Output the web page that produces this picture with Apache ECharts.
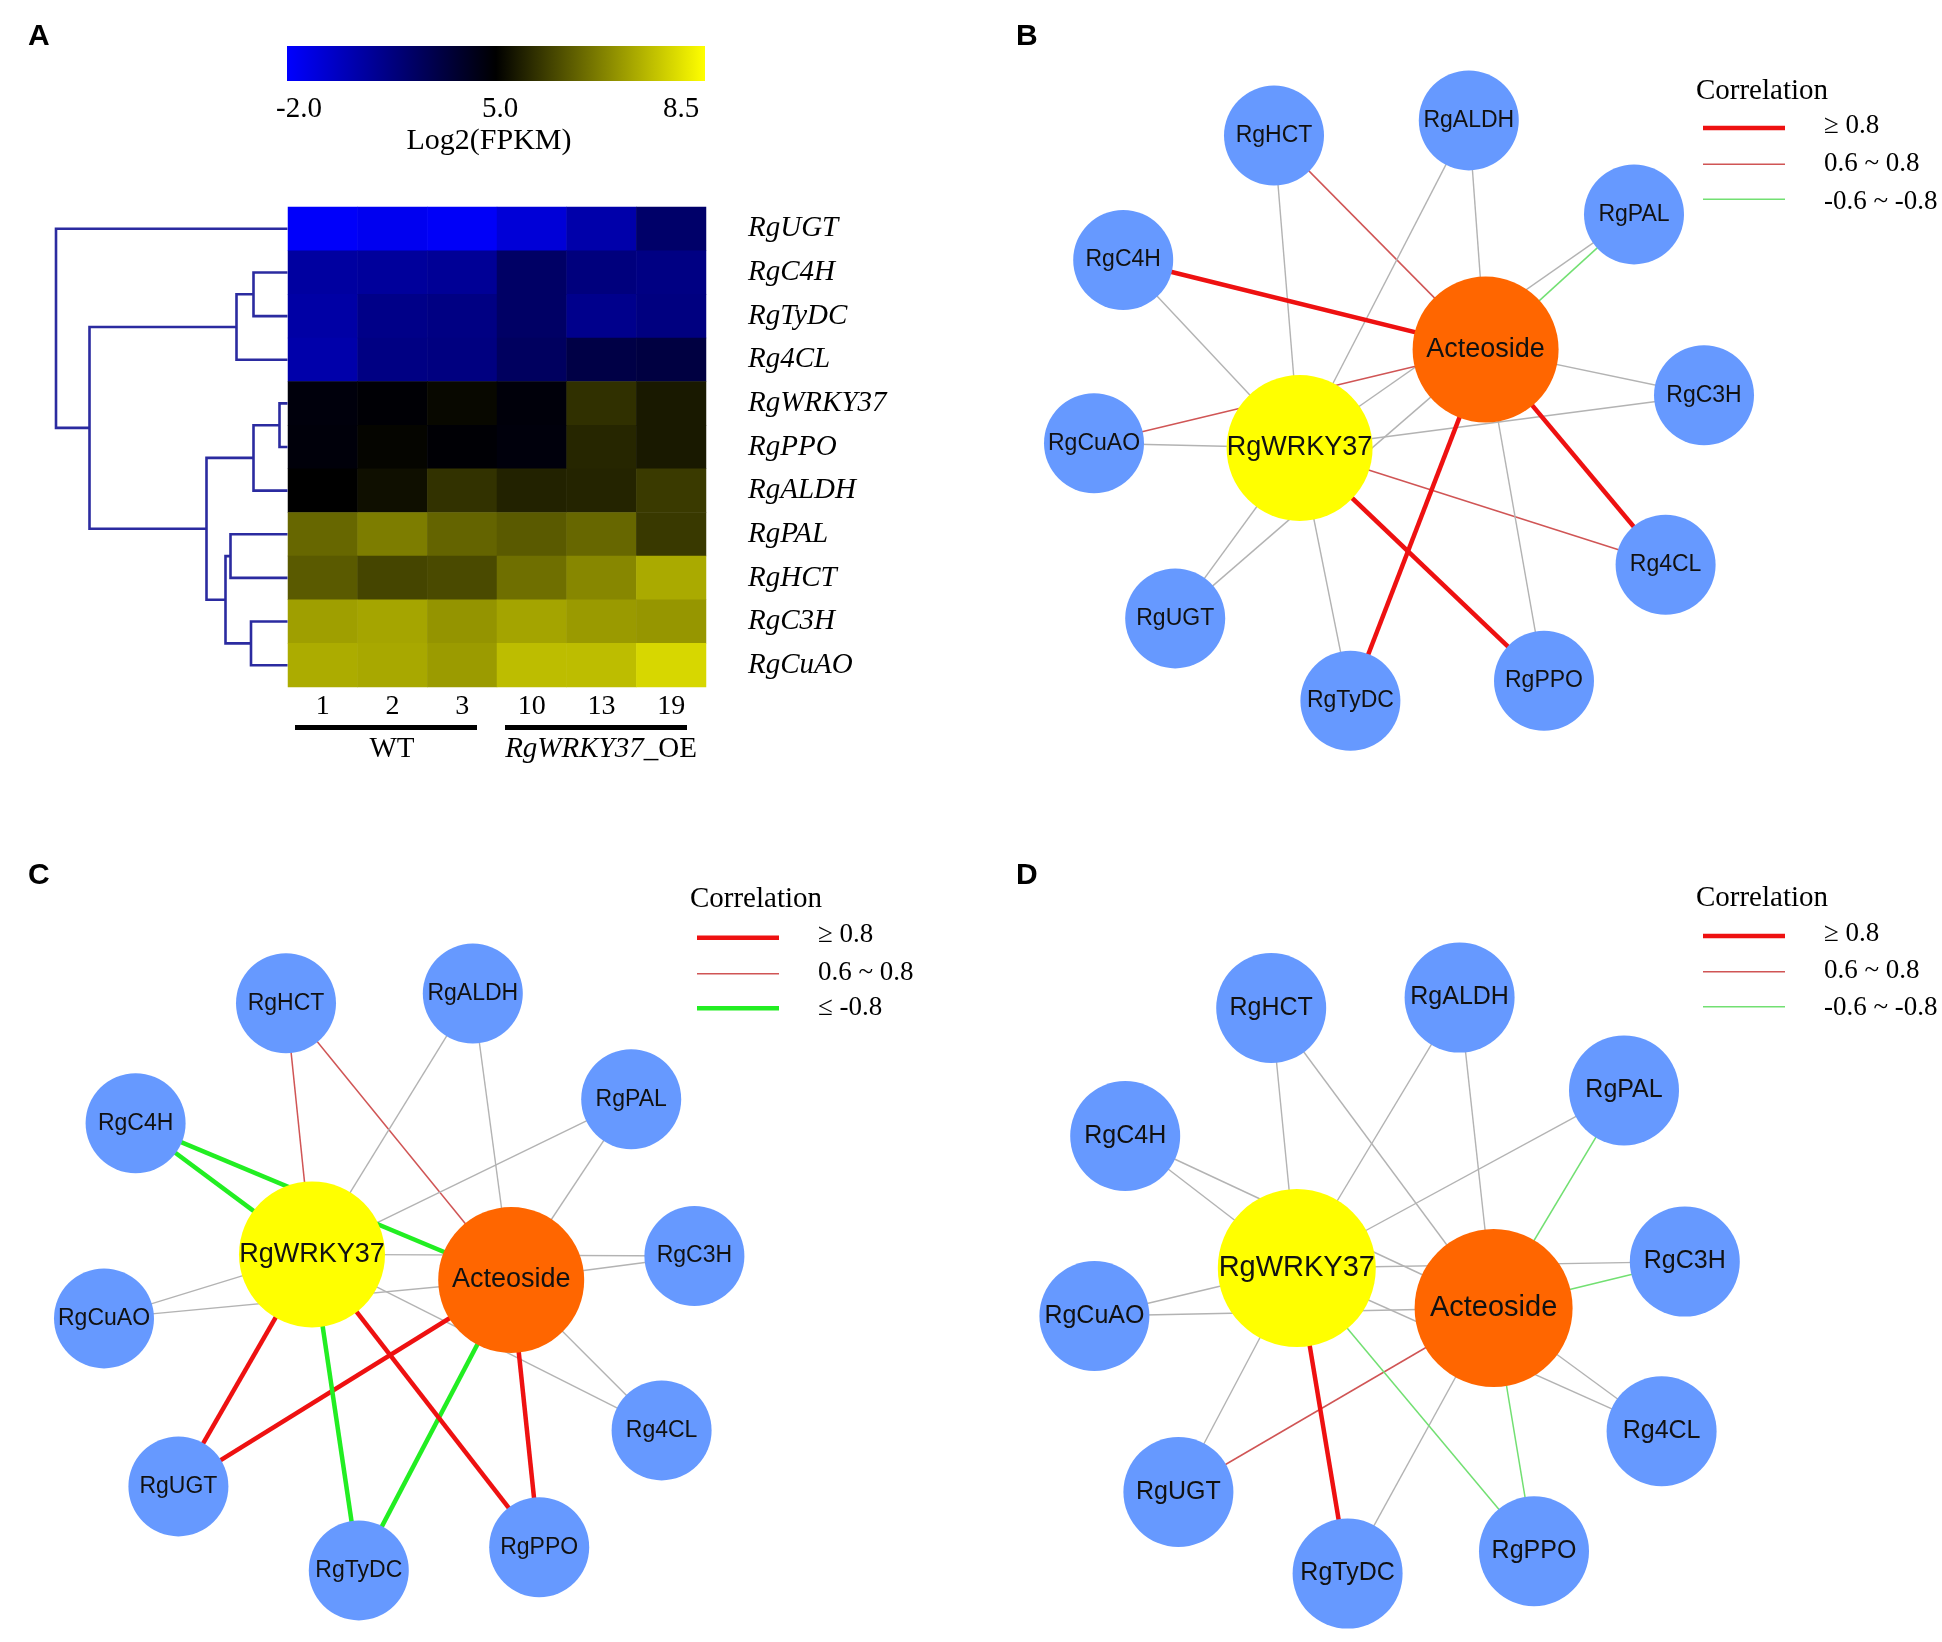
<!DOCTYPE html>
<html>
<head>
<meta charset="utf-8">
<script src="https://cdn.jsdelivr.net/npm/echarts@6/dist/echarts.min.js"></script>
<style>html,body{margin:0;padding:0;background:#fff}#c{width:1942px;height:1642px}</style>
</head>
<body>
<div id="c"></div>
<script>
// ---------------- DATA ----------------
const genes = ['RgUGT','RgC4H','RgTyDC','Rg4CL','RgWRKY37','RgPPO','RgALDH','RgPAL','RgHCT','RgC3H','RgCuAO'];
const samples = ['1','2','3','10','13','19'];
// log2(FPKM) per gene, samples 1,2,3 (WT) and 10,13,19 (OE)
const exprUGT    = [-1.86, -1.59, -1.81, -0.90, 0.33, 2.12];
const exprC4H    = [0.61, 0.75, 0.88, 2.25, 1.57, 1.43];
const exprTyDC   = [0.47, 1.29, 1.43, 2.25, 1.16, 1.49];
const expr4CL    = [0.33, 1.43, 1.49, 2.39, 3.08, 3.22];
const exprWRKY37 = [4.67, 4.86, 5.11, 4.73, 5.66, 5.34];
const exprPPO    = [4.73, 5.07, 4.86, 4.67, 5.52, 5.34];
const exprALDH   = [5.00, 5.20, 5.69, 5.46, 5.50, 5.80];
const exprPAL    = [6.42, 6.72, 6.37, 6.23, 6.42, 5.78];
const exprHCT    = [6.23, 5.95, 6.02, 6.52, 6.85, 7.33];
const exprC3H    = [7.18, 7.26, 7.03, 7.25, 7.12, 7.06];
const exprCuAO   = [7.36, 7.31, 7.13, 7.60, 7.60, 7.95];
const exprRows = [exprUGT, exprC4H, exprTyDC, expr4CL, exprWRKY37, exprPPO, exprALDH, exprPAL, exprHCT, exprC3H, exprCuAO];
const colorbarTicks = ['-2.0', '5.0', '8.5'];
const groupLabels = ['WT', 'RgWRKY37_OE'];
// dendrogram merges: [clusterA, clusterB, height]; leaves 0..10, new clusters 11..
const dendroMerges = [
  [1, 2, 0.68], [11, 3, 1.02], [4, 5, 0.16], [13, 6, 0.68], [7, 8, 1.14],
  [9, 10, 0.73], [15, 16, 1.24], [14, 17, 1.62], [12, 18, 3.96], [0, 19, 4.63]
];
const dendroMaxHeight = 4.63;
// network layouts (layout units 0-100)
const nodesB = [['RgHCT',34.25,16.95],['RgALDH',58.6,15.05],['RgPAL',79.25,26.8],['RgC4H',15.4,32.5],
  ['Acteoside',60.7,43.7],['RgC3H',88.0,49.4],['RgCuAO',11.75,55.4],['RgWRKY37',37.45,56.0],
  ['Rg4CL',83.2,70.6],['RgUGT',21.9,77.3],['RgTyDC',43.8,87.6],['RgPPO',68.0,85.1]];
const nodesC = [['RgHCT',35.75,22.9],['RgALDH',59.1,21.7],['RgPAL',78.9,34.9],['RgC4H',16.95,37.9],
  ['RgWRKY37',39.0,54.3],['Acteoside',63.9,57.5],['RgC3H',86.8,54.5],['RgCuAO',13.0,62.3],
  ['Rg4CL',82.7,76.3],['RgUGT',22.3,83.3],['RgTyDC',44.85,93.8],['RgPPO',67.4,90.9]];
const nodesD = [['RgHCT',33.9,23.5],['RgALDH',57.45,22.2],['RgPAL',78.0,33.8],['RgC4H',15.65,39.5],
  ['RgWRKY37',37.1,56.0],['Acteoside',61.7,61.0],['RgC3H',85.6,55.2],['RgCuAO',11.8,62.0],
  ['Rg4CL',82.7,76.4],['RgUGT',22.3,84.0],['RgTyDC',43.45,94.2],['RgPPO',66.75,91.4]];
// edges: [source, target, class]  r8: >=0.8, r6: 0.6~0.8, g6: -0.6~-0.8, g8: <=-0.8, ns: other
const edgesB = [
  ['RgHCT','RgWRKY37','ns'],['RgHCT','Acteoside','r6'],
  ['RgALDH','RgWRKY37','ns'],['RgALDH','Acteoside','ns'],
  ['RgPAL','RgWRKY37','ns'],['RgPAL','Acteoside','g6'],
  ['RgC4H','RgWRKY37','ns'],['RgC4H','Acteoside','r8'],
  ['RgC3H','RgWRKY37','ns'],['RgC3H','Acteoside','ns'],
  ['RgCuAO','RgWRKY37','ns'],['RgCuAO','Acteoside','r6'],
  ['Rg4CL','RgWRKY37','r6'],['Rg4CL','Acteoside','r8'],
  ['RgUGT','RgWRKY37','ns'],['RgUGT','Acteoside','ns'],
  ['RgTyDC','RgWRKY37','ns'],['RgTyDC','Acteoside','r8'],
  ['RgPPO','RgWRKY37','r8'],['RgPPO','Acteoside','ns']];
const edgesC = [
  ['RgHCT','RgWRKY37','r6'],['RgHCT','Acteoside','r6'],
  ['RgALDH','RgWRKY37','ns'],['RgALDH','Acteoside','ns'],
  ['RgPAL','RgWRKY37','ns'],['RgPAL','Acteoside','ns'],
  ['RgC4H','RgWRKY37','g8'],['RgC4H','Acteoside','g8'],
  ['RgC3H','RgWRKY37','ns'],['RgC3H','Acteoside','ns'],
  ['RgCuAO','RgWRKY37','ns'],['RgCuAO','Acteoside','ns'],
  ['Rg4CL','RgWRKY37','ns'],['Rg4CL','Acteoside','ns'],
  ['RgUGT','RgWRKY37','r8'],['RgUGT','Acteoside','r8'],
  ['RgTyDC','RgWRKY37','g8'],['RgTyDC','Acteoside','g8'],
  ['RgPPO','RgWRKY37','r8'],['RgPPO','Acteoside','r8']];
const edgesD = [
  ['RgHCT','RgWRKY37','ns'],['RgHCT','Acteoside','ns'],
  ['RgALDH','RgWRKY37','ns'],['RgALDH','Acteoside','ns'],
  ['RgPAL','RgWRKY37','ns'],['RgPAL','Acteoside','g6'],
  ['RgC4H','RgWRKY37','ns'],['RgC4H','Acteoside','ns'],
  ['RgC3H','RgWRKY37','ns'],['RgC3H','Acteoside','g6'],
  ['RgCuAO','RgWRKY37','ns'],['RgCuAO','Acteoside','ns'],
  ['Rg4CL','RgWRKY37','ns'],['Rg4CL','Acteoside','ns'],
  ['RgUGT','RgWRKY37','ns'],['RgUGT','Acteoside','r6'],
  ['RgTyDC','RgWRKY37','r8'],['RgTyDC','Acteoside','ns'],
  ['RgPPO','RgWRKY37','g6'],['RgPPO','Acteoside','g6']];
const legendClassesB = ['r8','r6','g6'];
const legendClassesC = ['r8','r6','g8'];
const legendClassesD = ['r8','r6','g6'];
const legendLabels = {r8:'\u2265 0.8', r6:'0.6 ~ 0.8', g6:'-0.6 ~ -0.8', g8:'\u2264 -0.8'};

// ---------------- STYLE ----------------
const SERIF = '"Liberation Serif","Times New Roman",serif';
const SANS = '"Liberation Sans",Arial,sans-serif';
const edgeStyle = {
  r8:{color:'#ee1111', width:4.5},
  r6:{color:'#d05555', width:1.5},
  g6:{color:'#72e072', width:1.5},
  g8:{color:'#22ee22', width:4.5},
  ns:{color:'#b3b3b3', width:1.4}
};
const nodeColor = n => n === 'RgWRKY37' ? '#ffff00' : (n === 'Acteoside' ? '#ff6600' : '#6699ff');

// ---------------- BUILD ----------------
const heatData = [];
exprRows.forEach((row, i) => row.forEach((v, j) => heatData.push([j, i, v])));

const pos = {}, hgt = {};
genes.forEach((g, i) => { pos[i] = i; hgt[i] = 0; });
const dendroData = dendroMerges.map(([a, b, h], k) => {
  const id = genes.length + k;
  const d = [h, pos[a], pos[b], hgt[a], hgt[b]];
  pos[id] = (pos[a] + pos[b]) / 2; hgt[id] = h;
  return d;
});

function graphSeries(nodes, edges, idx, small, big, fsSmall, fsBig) {
  return {
    type: 'graph', coordinateSystem: 'cartesian2d', xAxisIndex: idx, yAxisIndex: idx,
    silent: true, animation: false, roam: false,
    edgeSymbol: ['none', 'none'],
    data: nodes.map(([n, x, y]) => {
      const c = (n === 'RgWRKY37' || n === 'Acteoside');
      return { name: n, value: [x, y], symbol: 'circle', symbolSize: c ? big : small,
        itemStyle: { color: nodeColor(n), borderWidth: 0 },
        label: { show: true, position: 'inside', fontSize: c ? fsBig : fsSmall, fontFamily: SANS, color: '#111' } };
    }),
    links: edges.map(([s, t, cls]) => ({ source: s, target: t,
      lineStyle: { color: edgeStyle[cls].color, width: edgeStyle[cls].width, opacity: 1, curveness: 0 } })),
    lineStyle: { opacity: 1 },
    emphasis: { disabled: true }
  };
}

function txt(x, y, text, size, opts) {
  opts = opts || {};
  const fam = opts.family || SERIF;
  const font = (opts.style || 'normal') + ' ' + (opts.weight || 'normal') + ' ' + size + 'px ' + fam;
  return { type: 'text', silent: true, z: 100, style: {
    text: text, x: x, y: y, font: font, fill: '#000',
    align: opts.align || 'center', verticalAlign: 'middle',
    textAlign: opts.align || 'center', textVerticalAlign: 'middle'
  } };
}
function legend(x0, titleY, lineYs, labelYs, classes) {
  const els = [txt(x0 + 59, titleY, 'Correlation', 29)];
  classes.forEach((cls, i) => {
    els.push({ type: 'line', silent: true, z: 100, shape: { x1: x0, y1: lineYs[i], x2: x0 + 82, y2: lineYs[i] },
      style: { stroke: edgeStyle[cls].color, lineWidth: edgeStyle[cls].width } });
    els.push(txt(x0 + 121, labelYs[i], legendLabels[cls], 27, { align: 'left' }));
  });
  return els;
}

const graphics = [
  txt(28, 37, 'A', 30, { family: SANS, weight: 'bold', align: 'left' }),
  txt(1016, 37, 'B', 30, { family: SANS, weight: 'bold', align: 'left' }),
  txt(28, 876, 'C', 30, { family: SANS, weight: 'bold', align: 'left' }),
  txt(1016, 876, 'D', 30, { family: SANS, weight: 'bold', align: 'left' }),
  // colour bar
  { type: 'rect', silent: true, shape: { x: 287, y: 46, width: 418, height: 35 },
    style: { fill: new echarts.graphic.LinearGradient(0, 0, 1, 0, [
      { offset: 0, color: '#0000ff' }, { offset: 0.5, color: '#000000' }, { offset: 1, color: '#ffff00' }]) } },
  txt(299, 109, colorbarTicks[0], 29),
  txt(500, 109, colorbarTicks[1], 29),
  txt(681, 109, colorbarTicks[2], 29),
  txt(489, 141, 'Log2(FPKM)', 30),
  // sample groups
  { type: 'line', silent: true, shape: { x1: 295, y1: 727.5, x2: 477, y2: 727.5 }, style: { stroke: '#000', lineWidth: 5 } },
  { type: 'line', silent: true, shape: { x1: 505, y1: 727.5, x2: 687, y2: 727.5 }, style: { stroke: '#000', lineWidth: 5 } },
  txt(392, 749, groupLabels[0], 29),
  { type: 'text', silent: true, style: { x: 601, y: 749, text: '{i|RgWRKY37}{n|_OE}',
      align: 'center', verticalAlign: 'middle', textAlign: 'center', textVerticalAlign: 'middle',
      rich: { i: { font: 'italic normal 29px ' + SERIF, fill: '#000', color: '#000' },
              n: { font: 'normal normal 29px ' + SERIF, fill: '#000', color: '#000' } } } }
].concat(
  legend(1703, 91, [128, 164.3, 199.3], [125.5, 163.5, 201.5], legendClassesB),
  legend(697, 899.5, [937.7, 973.7, 1008.3], [935, 972.7, 1008.3], legendClassesC),
  legend(1703, 898.5, [936, 971.7, 1006.7], [933.5, 970.7, 1008.3], legendClassesD)
);

const hiddenVal = (min, max, inverse, gi) => ({ type: 'value', gridIndex: gi, min: min, max: max, inverse: inverse, show: false });

const option = {
  animation: false,
  backgroundColor: '#ffffff',
  grid: [
    { left: 288, top: 207, width: 418, height: 480 },
    { left: 56, top: 207, width: 231.5, height: 480 },
    { left: 1000, top: 0, width: 800, height: 800 },
    { left: 0, top: 820, width: 800, height: 800 },
    { left: 1000, top: 820, width: 800, height: 800 }
  ],
  xAxis: [
    { type: 'category', gridIndex: 0, data: samples, position: 'bottom',
      axisLine: { show: false }, axisTick: { show: false }, splitLine: { show: false },
      axisLabel: { fontFamily: SERIF, fontSize: 28, color: '#000', margin: 6 } },
    hiddenVal(0, dendroMaxHeight, true, 1),
    hiddenVal(0, 100, false, 2), hiddenVal(0, 100, false, 3), hiddenVal(0, 100, false, 4)
  ],
  yAxis: [
    { type: 'category', gridIndex: 0, data: genes, inverse: true, position: 'right',
      axisLine: { show: false }, axisTick: { show: false }, splitLine: { show: false },
      axisLabel: { fontFamily: SERIF, fontStyle: 'italic', fontSize: 29, color: '#000', margin: 42, align: 'left' } },
    hiddenVal(-0.5, genes.length - 0.5, true, 1),
    hiddenVal(0, 100, true, 2), hiddenVal(0, 100, true, 3), hiddenVal(0, 100, true, 4)
  ],
  visualMap: {
    type: 'continuous', show: false, seriesIndex: 0, min: -2, max: 8.5,
    inRange: { color: ['#0000ff', '#000080', '#000000', '#ffff00'] }
  },
  graphic: { elements: graphics },
  series: [
    { type: 'heatmap', xAxisIndex: 0, yAxisIndex: 0, data: heatData, silent: true,
      itemStyle: { borderWidth: 0 }, emphasis: { disabled: true }, progressive: 0 },
    { type: 'custom', xAxisIndex: 1, yAxisIndex: 1, data: dendroData, silent: true,
      renderItem: function (params, api) {
        const h = api.value(0), ya = api.value(1), yb = api.value(2), ha = api.value(3), hb = api.value(4);
        const pts = [api.coord([ha, ya]), api.coord([h, ya]), api.coord([h, yb]), api.coord([hb, yb])];
        return { type: 'polyline', shape: { points: pts },
          style: { stroke: '#2b2ba0', lineWidth: 2.6, fill: null, lineJoin: 'miter' } };
      } },
    graphSeries(nodesB, edgesB, 2, 100, 146, 23, 27),
    graphSeries(nodesC, edgesC, 3, 100, 146, 23, 27),
    graphSeries(nodesD, edgesD, 4, 110, 158, 25, 29)
  ]
};

const chart = echarts.init(document.getElementById('c'));
chart.setOption(option);
</script>
</body>
</html>
